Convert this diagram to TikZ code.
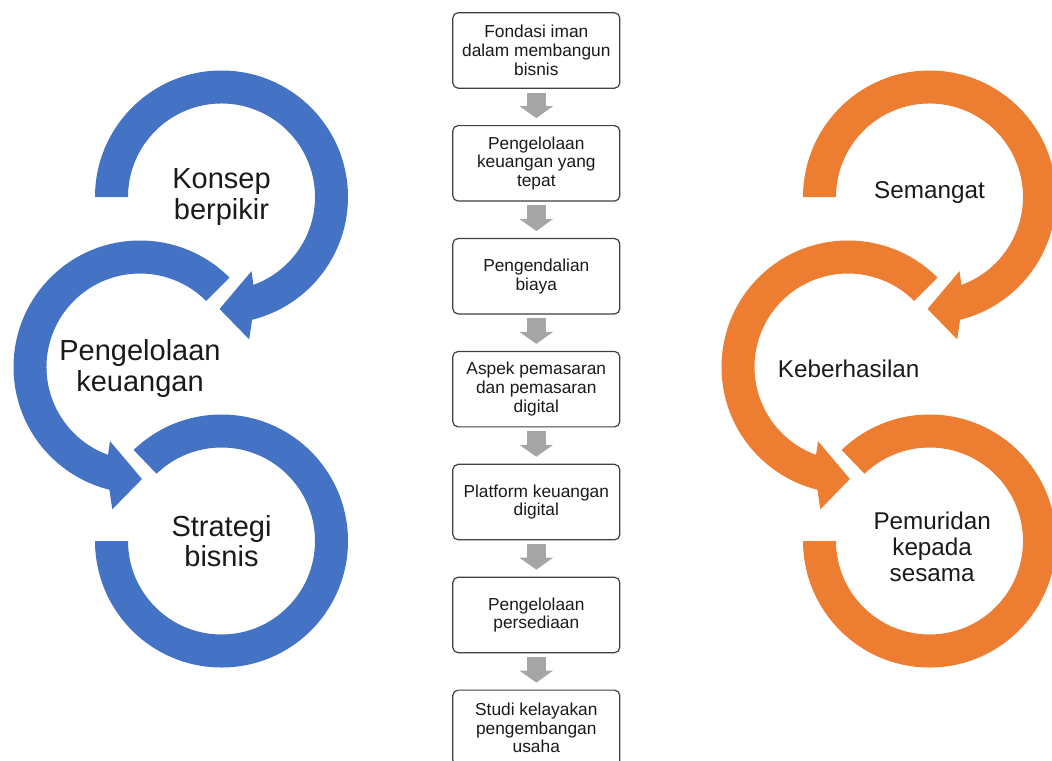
\documentclass[tikz,border=0pt]{standalone}
\usepackage{fontspec}
\setmainfont{Liberation Sans}
\usetikzlibrary{arrows.meta}
\definecolor{ringblue}{HTML}{4472C4}
\definecolor{ringorange}{HTML}{ED7D31}
\definecolor{stepgray}{HTML}{A5A5A5}
\definecolor{boxline}{HTML}{404040}
\definecolor{ink}{HTML}{1A1A1A}
\begin{document}
\begin{tikzpicture}[x=0.75pt,y=0.75pt,
  flowbox/.style={draw=boxline, line width=0.9pt, rounded corners=4pt, fill=white,
    minimum width=125.25pt, minimum height=56.6pt, align=center, text=ink,
    font=\fontsize{13}{14}\selectfont, inner sep=2pt},
  flowarrow/.style={draw=stepgray, line width=14.25pt,
    -{Triangle[width=24.75pt,length=9pt]}},
  bluelabel/.style={align=center, text=ink, font=\fontsize{21.75}{23}\selectfont},
  orangelabel/.style={align=center, text=ink, font=\fontsize{18.2}{19.5}\selectfont},
  % upper ring: opens on the left, arrow head at the bottom
  ringtop/.pic={\fill[pic actions] (180:126.5)
      arc[start angle=180, end angle=-76, radius=126.5]
      -- (-79:145) -- (-91:112) -- (-68:80) -- (-70:93.5)
      arc[start angle=-70, end angle=180, radius=93.5] -- cycle;},
  % middle ring: starts upper right, runs counter-clockwise
  ringmid/.pic={\fill[pic actions] (45:126.5)
      arc[start angle=45, end angle=256, radius=126.5]
      -- (259:145) -- (271:112) -- (248:80) -- (250:93.5)
      arc[start angle=250, end angle=45, radius=93.5] -- cycle;},
  % lower ring: starts upper left, ends on the left without a head
  ringbot/.pic={\fill[pic actions] (134:126.5)
      arc[start angle=134, end angle=-180, radius=126.5]
      -- (-180:93.5)
      arc[start angle=-180, end angle=134, radius=93.5] -- cycle;}
]
\useasboundingbox (0,0) rectangle (1052,-760);
\clip (0,0) rectangle (1052,-760);

% ring centres
\coordinate (bt) at (221.5,-197);
\coordinate (bm) at (140,-367);
\coordinate (bb) at (221.5,-541);
\coordinate (ot) at (929.5,-197);
\coordinate (om) at (848,-367);
\coordinate (ob) at (929.5,-541);

% blue cycle
\pic[fill=ringblue] at (bt) {ringtop};
\pic[fill=ringblue] at (bm) {ringmid};
\pic[fill=ringblue] at (bb) {ringbot};
\node[bluelabel] (konsep) at (bt) {Konsep\\berpikir};
\node[bluelabel] (kelola) at ([yshift=-1pt]bm) {Pengelolaan\\keuangan};
\node[bluelabel] (strategi) at (bb) {Strategi\\bisnis};

% orange cycle
\pic[fill=ringorange] at (ot) {ringtop};
\pic[fill=ringorange] at (om) {ringmid};
\pic[fill=ringorange] at (ob) {ringbot};
\node[orangelabel] (semangat) at ([yshift=3pt]ot) {Semangat};
\node[orangelabel] (hasil) at ([xshift=0.5pt,yshift=-1pt]om) {Keberhasilan};
\node[orangelabel] (murid) at ([xshift=2pt,yshift=-4pt]ob) {Pemuridan\\kepada\\sesama};

% process steps
\node[flowbox] (s1) at (536.3,-50.45) {Fondasi iman\\dalam membangun\\bisnis};
\node[flowbox] (s2) at (536.3,-163.35) {Pengelolaan\\keuangan yang\\tepat};
\node[flowbox] (s3) at (536.3,-276.25) {Pengendalian\\biaya};
\node[flowbox] (s4) at (536.3,-389.15) {Aspek pemasaran\\dan pemasaran\\digital};
\node[flowbox] (s5) at (536.3,-502.05) {Platform keuangan\\digital};
\node[flowbox] (s6) at (536.3,-614.95) {Pengelolaan\\persediaan};
\node[flowbox] (s7) at (536.3,-727.85) {Studi kelayakan\\pengembangan\\usaha};

\foreach \a/\b in {s1/s2,s2/s3,s3/s4,s4/s5,s5/s6,s6/s7}
  \draw[flowarrow] ([yshift=-2.8pt]\a.south) -- ([yshift=5.2pt]\b.north);
\end{tikzpicture}
\end{document}
